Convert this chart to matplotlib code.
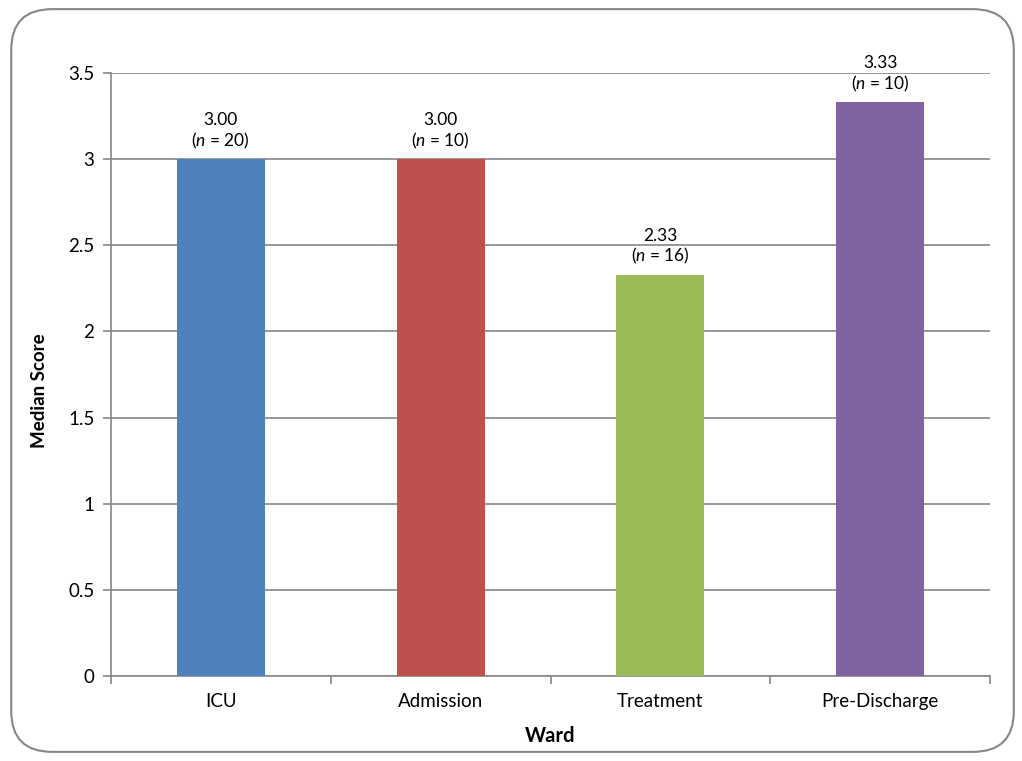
import numpy as np
import matplotlib.pyplot as plt
from matplotlib.patches import FancyBboxPatch
from matplotlib.ticker import FixedLocator

plt.rcParams['font.family'] = ['Lato', 'DejaVu Sans']
plt.rcParams['mathtext.fontset'] = 'custom'
plt.rcParams['mathtext.rm'] = 'Lato'
plt.rcParams['mathtext.it'] = 'Lato:italic'

wards = ['ICU', 'Admission', 'Treatment', 'Pre-Discharge']
medians = [3.00, 3.00, 2.33, 3.33]
counts = [20, 10, 16, 10]
colors = ['#4F81BD', '#C0504D', '#9BBB59', '#8064A2']
yticks = [0, 0.5, 1, 1.5, 2, 2.5, 3, 3.5]
ytick_labels = ['0', '0.5', '1', '1.5', '2', '2.5', '3', '3.5']

grey = '#868686'

fig = plt.figure(figsize=(10.22, 7.61), dpi=100)
ax = fig.add_axes([0.1086, 0.1117, 0.8601, 0.7924])

x = np.arange(len(wards))
ax.bar(x, medians, width=0.4, color=colors, zorder=3)

for xi, m, n in zip(x, medians, counts):
    ax.annotate(f'{m:.2f}\n($\\it{{n}}$ = {n})', (xi, m), xytext=(0, 6),
                textcoords='offset points', ha='center', va='bottom',
                fontsize=12.5, linespacing=1.15)

ax.set_xlim(-0.5, 3.5)
ax.set_ylim(0, 3.5)
ax.set_yticks(yticks)
ax.set_yticklabels(ytick_labels)
ax.set_xticks(x)
ax.set_xticklabels(wards)
ax.xaxis.set_minor_locator(FixedLocator([-0.5, 0.5, 1.5, 2.5, 3.5]))
ax.tick_params(axis='x', which='major', length=0, pad=12, labelsize=13.5)
ax.tick_params(axis='x', which='minor', length=6, color=grey, width=1.2)
ax.tick_params(axis='y', length=6, color=grey, width=1.2, labelsize=13.5, pad=6)

ax.grid(axis='y', color=grey, linewidth=1.2, zorder=0)
for side in ['top', 'right']:
    ax.spines[side].set_visible(False)
for side in ['left', 'bottom']:
    ax.spines[side].set_color(grey)
    ax.spines[side].set_linewidth(1.2)

ax.set_xlabel('Ward', fontsize=14.5, fontweight='bold', labelpad=12)
ax.set_ylabel('Median Score', fontsize=13.5, fontweight='bold')
ax.yaxis.set_label_coords(-0.072, 0.473)

border = FancyBboxPatch((0.011, 0.012), 0.981, 0.976,
                        boxstyle='round,pad=0,rounding_size=0.04',
                        transform=fig.transFigure, fill=False,
                        edgecolor=grey, linewidth=1.5, mutation_aspect=1.34)
fig.patches.append(border)

fig.savefig('out.png', dpi=100)
